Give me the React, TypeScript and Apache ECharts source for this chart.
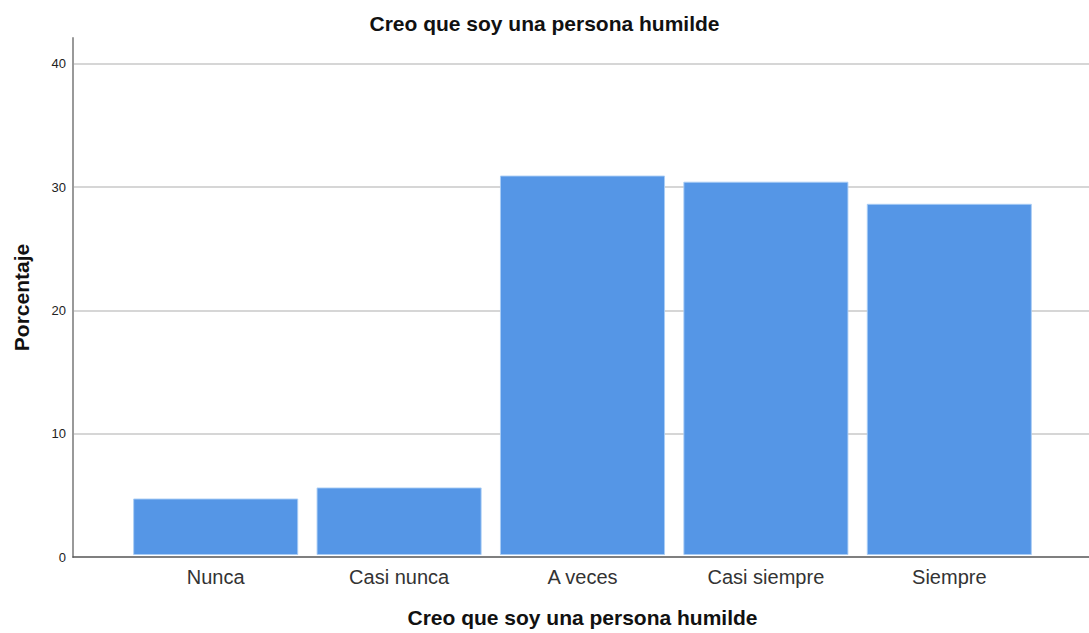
import React, { useEffect, useRef } from "react";
import * as echarts from "echarts";

const chartTitle = "Creo que soy una persona humilde";
const xAxisTitle = "Creo que soy una persona humilde";
const yAxisTitle = "Porcentaje";
const categories = ["Nunca", "Casi nunca", "A veces", "Casi siempre", "Siempre"];
const percentages = [4.6, 5.5, 30.9, 30.4, 28.6];
const yMin = 0;
const yMax = 42.1;
const yInterval = 10;

export default function App() {
  const ref = useRef<HTMLDivElement>(null);
  useEffect(() => {
    if (!ref.current) return;
    const chart = echarts.init(ref.current, null, { renderer: "svg" });
    const font = "'Liberation Sans', Arial, sans-serif";
    chart.setOption({
      animation: false,
      backgroundColor: "#ffffff",
      textStyle: { fontFamily: font },
      title: {
        text: chartTitle,
        left: "center",
        top: 8,
        textStyle: { fontFamily: font, fontSize: 21, fontWeight: "bold", color: "#111" },
      },
      grid: [
        { left: 73, right: 0, top: 38, bottom: 76, containLabel: false },
        { left: 124, right: 48, top: 38, bottom: 76, containLabel: false },
      ],
      xAxis: [
        {
          type: "value",
          gridIndex: 0,
          min: 0,
          max: 1,
          axisLine: { show: true, onZero: false, lineStyle: { color: "#555", width: 1.5 } },
          axisTick: { show: false },
          axisLabel: { show: false },
          splitLine: { show: false },
        },
        {
          type: "category",
          gridIndex: 1,
          data: categories,
          boundaryGap: true,
          axisLine: { show: false },
          axisTick: { show: false },
          axisLabel: { fontFamily: font, fontSize: 20, color: "#333", margin: 12 },
          name: xAxisTitle,
          nameLocation: "middle",
          nameGap: 52,
          nameTextStyle: { fontFamily: font, fontSize: 21, fontWeight: "bold", color: "#111" },
        },
      ],
      yAxis: [
        {
          type: "value",
          gridIndex: 0,
          min: yMin,
          max: yMax,
          interval: yInterval,
          axisLine: { show: true, lineStyle: { color: "#999", width: 2 } },
          axisTick: { show: false },
          axisLabel: {
            fontFamily: font,
            fontSize: 13,
            color: "#222",
            margin: 7,
            showMaxLabel: false,
          },
          splitLine: {
            show: true,
            showMinLine: false,
            showMaxLine: false,
            lineStyle: { color: "#c8c8c8", width: 1.5 },
          },
          name: yAxisTitle,
          nameLocation: "middle",
          nameRotate: 90,
          nameGap: 41,
          nameTextStyle: { fontFamily: font, fontSize: 21, fontWeight: "bold", color: "#111" },
        },
        {
          type: "value",
          gridIndex: 1,
          min: yMin,
          max: yMax,
          interval: yInterval,
          show: false,
        },
      ],
      series: [
        {
          type: "bar",
          xAxisIndex: 1,
          yAxisIndex: 1,
          data: percentages,
          barCategoryGap: "10%",
          itemStyle: {
            color: "#5596E6",
            borderColor: "rgba(170,205,245,0.9)",
            borderWidth: 1,
          },
        },
      ],
    });
    return () => chart.dispose();
  }, []);
  return (
    <div
      ref={ref}
      style={{ position: "absolute", left: 0, top: 0, width: 1089, height: 633 }}
    />
  );
}
